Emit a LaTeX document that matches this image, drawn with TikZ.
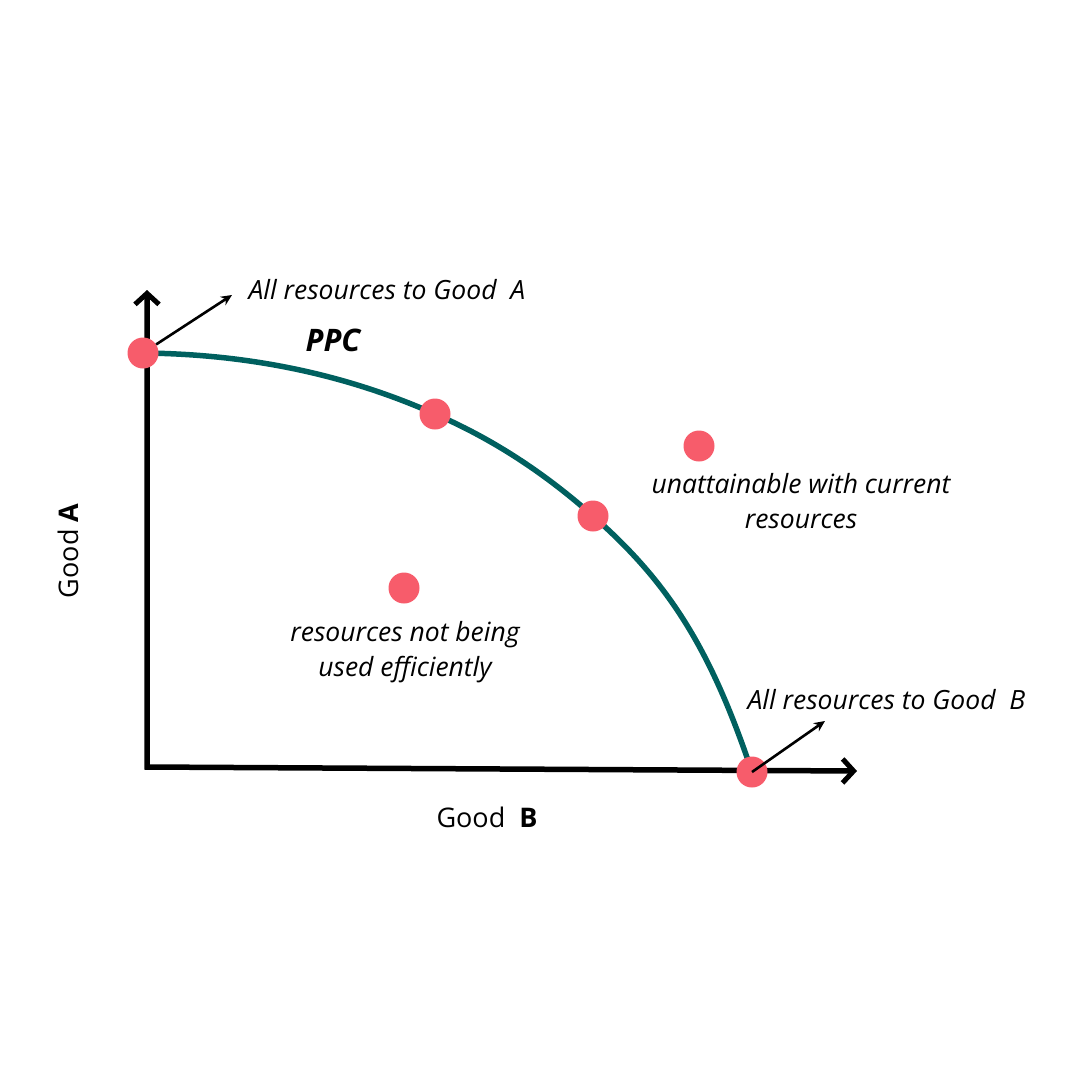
\documentclass[tikz,border=0pt]{standalone}
\usepackage{fontspec}
\setmainfont{Open Sans}
\usepackage{xcolor}
\usetikzlibrary{arrows.meta,positioning}
\definecolor{ppcteal}{HTML}{00605F}
\definecolor{dotred}{HTML}{F75C6B}

\begin{document}
\begin{tikzpicture}[
    x=1pt, y=-1pt,
    every node/.style={font=\fontsize{27}{35}\selectfont},
    dot/.style={circle, fill=dotred, inner sep=0pt, minimum size=31pt},
    axis/.style={line width=5.5pt, line join=miter,
        {Straight Barb[length=11pt,width=24pt,line width=5pt]}-{Straight Barb[length=11pt,width=24pt,line width=5pt]}},
    pointer/.style={line width=2.6pt, -{Stealth[length=11pt,width=10pt]}},
    lbl/.style={font=\fontsize{26.5}{35}\selectfont\itshape, align=center}
]
\useasboundingbox (0,0) rectangle (1080,1080);

% Axes
\coordinate (ytop) at (147,290);
\coordinate (origin) at (147,767);
\coordinate (xend) at (857,771);
\draw[axis] (ytop) -- (origin) -- (xend);

% Points on and off the frontier
\coordinate (pA) at (143,353);
\coordinate (p1) at (435,414);
\coordinate (p2) at (593,516);
\coordinate (pB) at (752,772);
\coordinate (pOut) at (699,446);
\coordinate (pIn) at (404,588);

% PPC curve
\draw[ppcteal, line width=5.5pt] (pA)
    .. controls (240,354) and (338,371) .. (p1)
    .. controls (488,437) and (540,469) .. (p2)
    .. controls (668,582) and (710,647) .. (pB);

% Dots
\foreach \p in {pA,p1,p2,pB,pOut,pIn} {
    \node[dot] (dot-\p) at (\p) {};
}

% Pointers to the end labels
\coordinate (tipA) at (232,295);
\coordinate (tipB) at (825,721);
\draw[pointer] (dot-pA) -- (tipA);
\draw[pointer] (dot-pB.center) -- (tipB);

% Labels
\node[lbl, anchor=west] (lblA) at (245,290) {All resources to Good\ \ A};
\node[lbl, anchor=west] (lblB) at (744,700) {All resources to Good\ \ B};
\node[font=\fontsize{31}{33}\selectfont\bfseries\itshape] (ppc) at (333,340) {PPC};
\node[lbl] (lblOut) at (801,501) {unattainable with current\\resources};
\node[lbl] (lblIn) at (405,652) {resources not being\\used efficiently};
\node (goodB) at (487,817) {Good\ \ \textbf{B}};
\node[rotate=90] (goodA) at (68,551) {Good \textbf{A}};

\end{tikzpicture}
\end{document}
